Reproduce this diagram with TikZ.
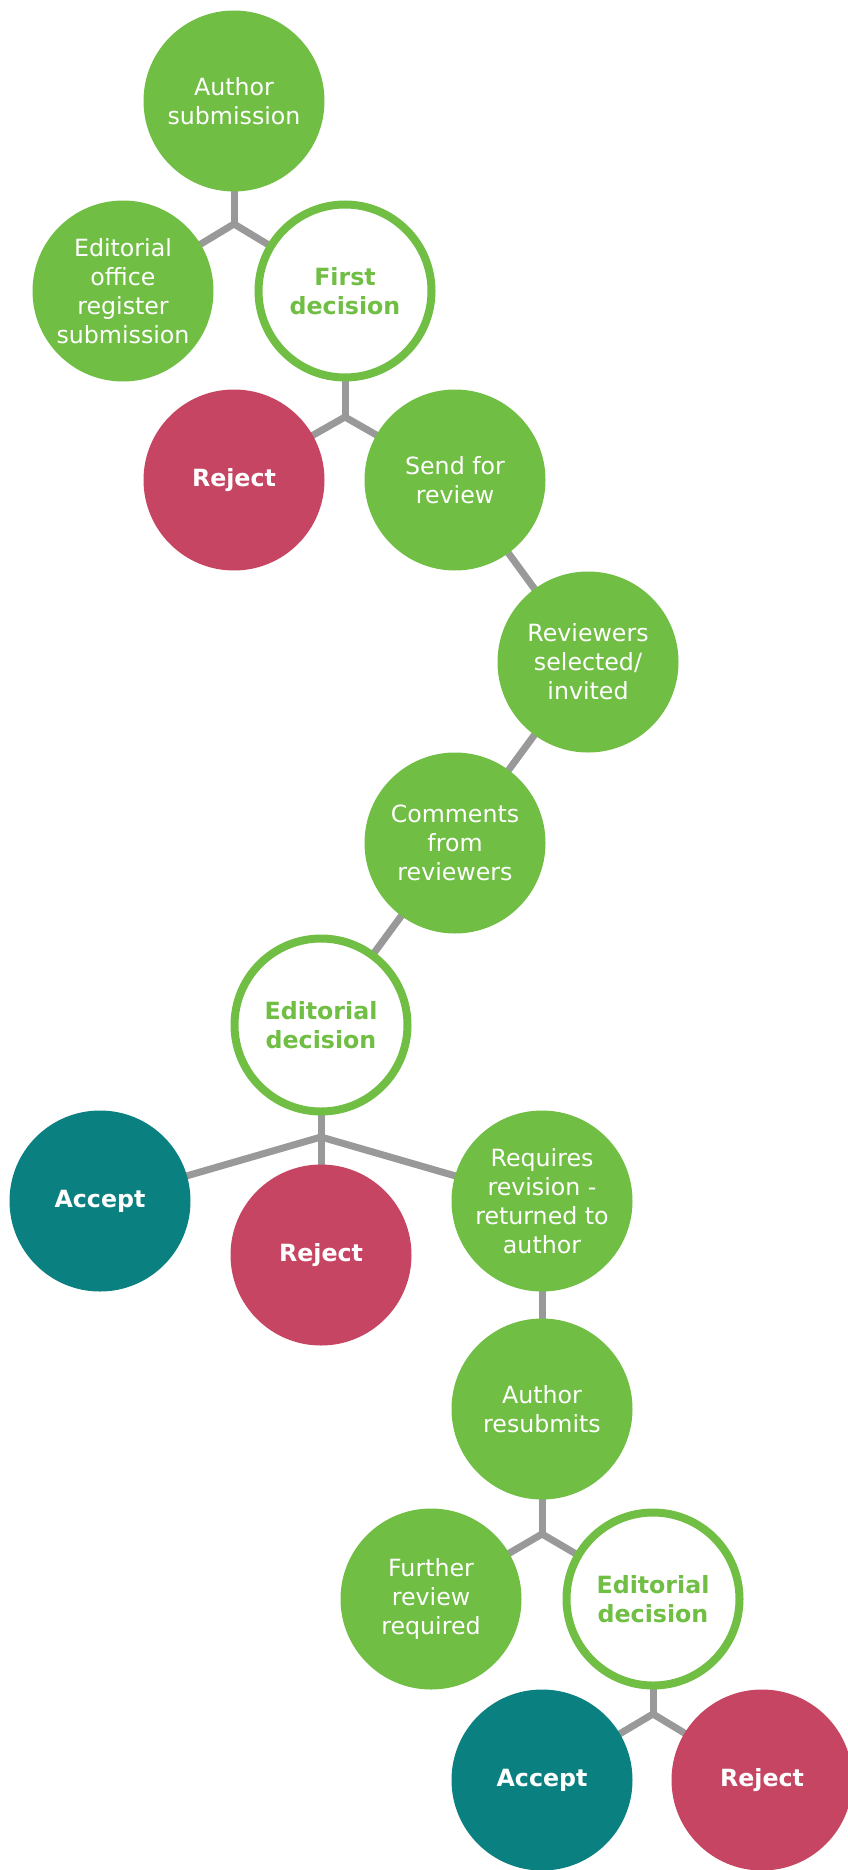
\documentclass[tikz,border=0pt]{standalone}
\usepackage{fontspec}
\setmainfont{DejaVu Sans}
\usetikzlibrary{backgrounds}
\definecolor{pgreen}{RGB}{112,190,68}
\definecolor{pred}{RGB}{198,69,98}
\definecolor{pteal}{RGB}{11,128,128}
\definecolor{pgray}{RGB}{153,153,153}
\tikzset{
  bub/.style={circle, inner sep=0pt, minimum size=181pt, align=center, text=white,
    font=\fontsize{23.7pt}{29pt}\selectfont},
  gbub/.style={bub, fill=pgreen},
  rbub/.style={bub, fill=pred, font=\fontsize{23.7pt}{29pt}\selectfont\bfseries},
  tbub/.style={bub, fill=pteal, font=\fontsize{23.7pt}{29pt}\selectfont\bfseries},
  ring/.style={bub, minimum size=173pt, draw=pgreen, line width=8pt, fill=white, text=pgreen,
    font=\fontsize{23.7pt}{29pt}\selectfont\bfseries},
  conn/.style={draw=pgray, line width=7pt}
}
\begin{document}
\begin{tikzpicture}[x=1pt, y=-1pt]
\useasboundingbox (0,0) rectangle (847,1870);
% nodes
\node[gbub] (auth) at (234,101) {Author\\submission};
\node[gbub] (office) at (123,291) {Editorial\\office\\register\\submission};
\node[ring] (first) at (345,291) {First\\decision};
\node[rbub] (rej1) at (234,480) {Reject};
\node[gbub] (send) at (455,480) {Send for\\review};
\node[gbub] (revsel) at (588,662) {Reviewers\\selected/\\invited};
\node[gbub] (comments) at (455,843) {Comments\\from\\reviewers};
\node[ring] (ed1) at (321,1025) {Editorial\\decision};
\node[tbub] (acc1) at (100,1201) {Accept};
\node[rbub] (rej2) at (321,1255) {Reject};
\node[gbub] (revise) at (542,1201) {Requires\\revision -\\returned to\\author};
\node[gbub] (resub) at (542,1409) {Author\\resubmits};
\node[gbub] (further) at (431,1599) {Further\\review\\required};
\node[ring] (ed2) at (653,1599) {Editorial\\decision};
\node[tbub] (acc2) at (542,1780) {Accept};
\node[rbub] (rej3) at (762,1780) {Reject};
% junctions
\coordinate (j1) at (234,224);
\coordinate (j2) at (345,417);
\coordinate (j3) at (321,1137);
\coordinate (j4) at (542,1534);
\coordinate (j5) at (653,1714);
\begin{scope}[on background layer]
\draw[conn] (auth.center) -- (j1);
\draw[conn] (j1) -- (office.center);
\draw[conn] (j1) -- (first.center);
\draw[conn] (first.center) -- (j2);
\draw[conn] (j2) -- (rej1.center);
\draw[conn] (j2) -- (send.center);
\draw[conn] (send.center) -- (revsel.center);
\draw[conn] (revsel.center) -- (comments.center);
\draw[conn] (comments.center) -- (ed1.center);
\draw[conn] (ed1.center) -- (j3);
\draw[conn] (j3) -- (acc1.center);
\draw[conn] (j3) -- (rej2.center);
\draw[conn] (j3) -- (revise.center);
\draw[conn] (revise.center) -- (resub.center);
\draw[conn] (resub.center) -- (j4);
\draw[conn] (j4) -- (further.center);
\draw[conn] (j4) -- (ed2.center);
\draw[conn] (ed2.center) -- (j5);
\draw[conn] (j5) -- (acc2.center);
\draw[conn] (j5) -- (rej3.center);
\end{scope}
\end{tikzpicture}
\end{document}
